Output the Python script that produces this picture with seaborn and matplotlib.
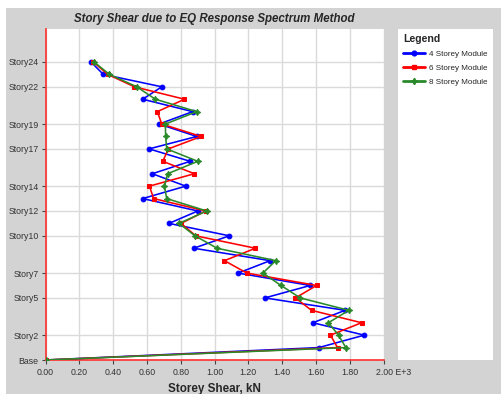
import matplotlib
matplotlib.use("Agg")
import matplotlib.pyplot as plt
import matplotlib.transforms as mtransforms
from matplotlib.patches import Rectangle
from matplotlib.lines import Line2D
import numpy as np
import pandas as pd
import seaborn as sns

# storey index 0 (Base) .. 24
levels = list(range(25))

# storey shear in units of 1e3 kN, listed from Base up to Story24
shear_4 = [0.000, 1.617, 1.886, 1.582, 1.773, 1.298, 1.566, 1.140, 1.329, 0.877,
           1.088, 0.731, 0.901, 0.575, 0.830, 0.632, 0.856, 0.613, 0.895, 0.672,
           0.871, 0.575, 0.688, 0.342, 0.269]
shear_6 = [0.000, 1.728, 1.686, 1.870, 1.574, 1.479, 1.604, 1.191, 1.059, 1.242,
           0.889, 0.802, 0.948, 0.640, 0.615, 0.881, 0.694, 0.727, 0.921, 0.688,
           0.662, 0.822, 0.526, 0.368, 0.283]
shear_8 = [0.000, 1.777, 1.734, 1.674, 1.795, 1.507, 1.394, 1.286, 1.363, 1.015,
           0.885, 0.790, 0.954, 0.717, 0.704, 0.723, 0.901, 0.717, 0.711, 0.709,
           0.895, 0.650, 0.540, 0.378, 0.287]

series_names = ["4 Storey Module", "6 Storey Module", "8 Storey Module"]
series_colors = ["#0000FF", "#FF0000", "#2A8A2A"]
series_markers = ["o", "s", (4, 1, 0)]
series_sizes = [3.4, 3.4, 4.6]

label_levels = [0, 2, 5, 7, 10, 12, 14, 17, 19, 22, 24]
label_names = ["Base", "Story2", "Story5", "Story7", "Story10", "Story12",
               "Story14", "Story17", "Story19", "Story22", "Story24"]
x_ticks = [0.0, 0.2, 0.4, 0.6, 0.8, 1.0, 1.2, 1.4, 1.6, 1.8, 2.0]
x_tick_labels = ["0.00", "0.20", "0.40", "0.60", "0.80", "1.00", "1.20",
                 "1.40", "1.60", "1.80", "2.00 E+3"]

frames = []
for name, vals in zip(series_names, [shear_4, shear_6, shear_8]):
    frames.append(pd.DataFrame({"Shear": vals, "Level": levels, "Series": name}))
df = pd.concat(frames, ignore_index=True)

sns.set_theme(style="white")
plt.rcParams["font.family"] = ["Liberation Sans", "DejaVu Sans"]

W, H = 501, 394
fig = plt.figure(figsize=(W / 100, H / 100), dpi=100, facecolor="white")

# grey chart backdrop
fig.patches.append(Rectangle((6 / W, 0), 1 - 6 / W, (H - 8) / H,
                             transform=fig.transFigure, facecolor="#D3D3D3",
                             edgecolor="none", zorder=-10))

left, right = 45.5 / W, 383.5 / W
bottom, top = (H - 360) / H, (H - 29.3) / H
ax = fig.add_axes([left, bottom, right - left, top - bottom])
ax.set_facecolor("white")

for name, col, mk, ms in zip(series_names, series_colors, series_markers, series_sizes):
    sub = df[df["Series"] == name]
    sns.lineplot(data=sub, x="Shear", y="Level", sort=False, estimator=None,
                 color=col, marker=mk, markersize=ms, markeredgecolor=col,
                 markerfacecolor=col, linewidth=1.15, ax=ax, legend=False, zorder=3)

ax.set_xlim(0, 2.0)
ax.set_ylim(0, 26.63)
ax.set_xticks(x_ticks)
ax.set_xticklabels(x_tick_labels, fontsize=6.3, color="#333333")
ax.set_yticks(label_levels)
ax.set_yticklabels(label_names, fontsize=6.3, color="#333333")
ax.grid(True, color="#DADADA", linewidth=1.0)
ax.set_axisbelow(True)
for s in ["top", "right"]:
    ax.spines[s].set_visible(False)
for s in ["left", "bottom"]:
    ax.spines[s].set_color("#FF3030")
    ax.spines[s].set_linewidth(1.2)
ax.tick_params(axis="y", length=3, width=0.8, color="#444444", pad=2, left=True)
ax.tick_params(axis="x", length=3, width=0.8, color="#444444", pad=3, bottom=True)

# keep the "2.00" part of the last label centred on its tick
last = ax.get_xticklabels()[-1]
last.set_horizontalalignment("left")
last.set_transform(last.get_transform() +
                   mtransforms.ScaledTranslation(-7.5 / 100, 0, fig.dpi_scale_trans))

ax.set_xlabel("Storey Shear, kN", fontsize=8.4, fontweight="bold", labelpad=4)
ax.set_ylabel("")
ax.set_title("Story Shear due to EQ Response Spectrum Method", fontsize=8.3,
             fontweight="bold", style="italic", pad=5)

# legend panel
lax = fig.add_axes([397.7 / W, bottom, 95 / W, top - bottom])
lax.set_facecolor("white")
lax.set_xticks([])
lax.set_yticks([])
for s in lax.spines.values():
    s.set_visible(False)
handles = [Line2D([0], [0], color=c, marker=m, markersize=ms, linewidth=2)
           for c, m, ms in zip(series_colors, series_markers, series_sizes)]
leg = lax.legend(handles, series_names, loc="upper left", title="Legend",
                 frameon=False, fontsize=5.8, handlelength=2.8, handletextpad=0.4,
                 labelspacing=0.78, borderaxespad=0, borderpad=0, alignment="left",
                 bbox_to_anchor=(0.055, 0.985))
leg.get_title().set_fontweight("bold")
leg.get_title().set_fontsize(7.6)

fig.savefig("out.png", dpi=100, facecolor="white")
